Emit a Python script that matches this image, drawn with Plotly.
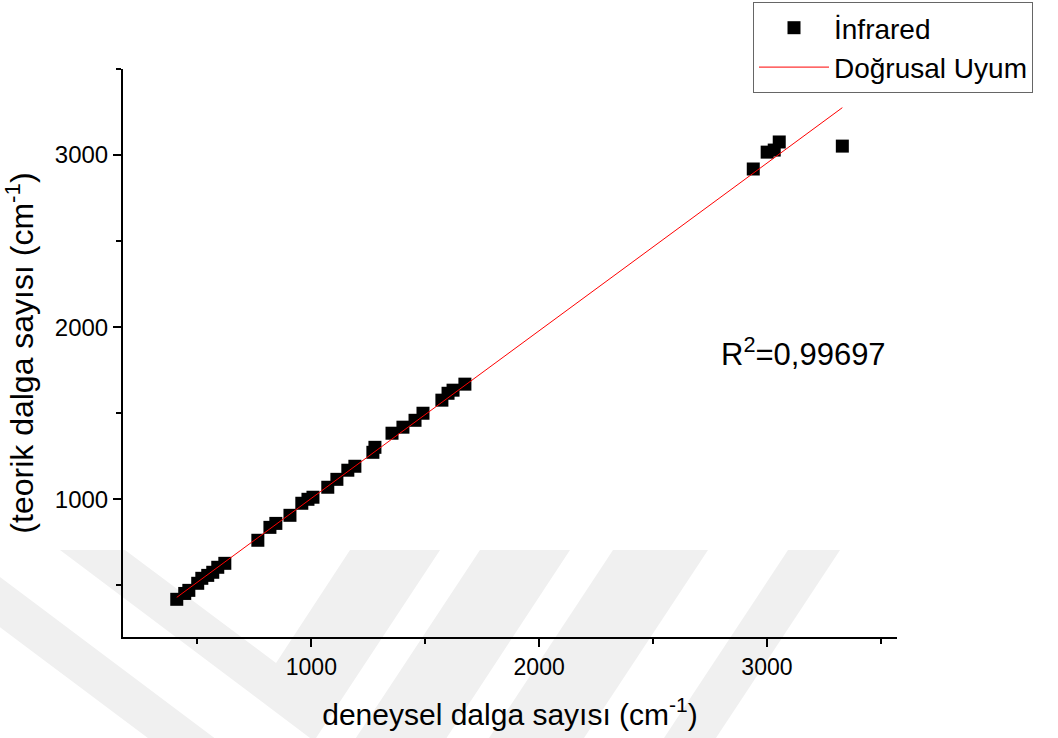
import plotly.graph_objects as go

# ---------------- data ----------------
exp_wavenumber = [409, 444, 462, 501, 519, 545, 567, 589, 620, 765, 818, 844, 906, 958,
                  985, 1007, 1072, 1112, 1160, 1191, 1270, 1279, 1354, 1402, 1455, 1490,
                  1573, 1600, 1622, 1674, 2940, 3001, 3032, 3054, 3331]
theo_wavenumber = [419, 453, 471, 512, 541, 558, 576, 605, 628, 762, 837, 860, 907, 977,
                   1000, 1012, 1070, 1116, 1169, 1192, 1273, 1302, 1384, 1419, 1459, 1500,
                   1576, 1616, 1634, 1669, 2919, 3017, 3029, 3076, 3052]
fit_slope = 0.9737
fit_intercept = 32.0
fit_x = [min(exp_wavenumber), max(exp_wavenumber)]
x_ticks = [1000, 2000, 3000]
y_ticks = [1000, 2000, 3000]
r2_text = "R<sup>2</sup>=0,99697"
series_names = ["İnfrared", "Doğrusal Uyum"]
x_title = "deneysel dalga sayısı (cm<sup>-1</sup>)"
y_title = "(teorik dalga sayısı (cm<sup>-1</sup>)"

FONT = "Arial, 'Liberation Sans', sans-serif"

# ---------------- layout geometry (pixels) ----------------
W, H = 1058, 738
L, R, T, B = 123, 161, 69, 101
PW, PH = W - L - R, H - T - B


def pp(x, y):
    """pixel -> paper coordinates"""
    return (x - L) / PW, (H - B - y) / PH


def poly(points):
    parts = []
    for i, (x, y) in enumerate(points):
        px, py = pp(x, y)
        parts.append(("M" if i == 0 else "L") + f"{px:.4f},{py:.4f}")
    return " ".join(parts) + " Z"


# faint background watermark (chevron stripes)
wm = [
    [(60, 550), (125, 550), (276, 663), (350, 550), (440, 550), (314, 741)],
    [(-103, 550), (-36, 550), (309, 809), (480, 550), (570, 550), (348, 888)],
    [(613, 550), (708, 550), (584, 738), (489, 738)],
    [(788, 550), (840, 550), (716, 738), (664, 738)],
]
shapes = [dict(type="path", xref="paper", yref="paper", path=poly(p),
               fillcolor="#f0f0f0", line=dict(width=0), layer="below") for p in wm]

fig = go.Figure()
fig.add_trace(go.Scatter(
    x=exp_wavenumber, y=theo_wavenumber, mode="markers", name=series_names[0],
    marker=dict(symbol="square", size=13, color="black"),
))
fig.add_trace(go.Scatter(
    x=fit_x, y=[fit_slope * v + fit_intercept for v in fit_x], mode="lines",
    name=series_names[1], line=dict(color="#ff0000", width=1),
))

axis_common = dict(
    showline=True, linecolor="black", linewidth=2, mirror=False,
    showgrid=False, zeroline=False,
    ticks="outside", ticklen=8, tickwidth=2, tickcolor="black",
    minor=dict(ticks="outside", ticklen=5, tickwidth=2, tickcolor="black",
               dtick=500, tick0=0),
)

fig.update_layout(
    width=W, height=H,
    margin=dict(l=L, r=R, t=T, b=B, autoexpand=False),
    paper_bgcolor="white", plot_bgcolor="rgba(0,0,0,0)",
    font=dict(family=FONT, color="black"),
    xaxis=dict(range=[173, 3571], tickvals=x_ticks,
               tickfont=dict(family=FONT, size=23, color="black"),
               title=dict(text=x_title, font=dict(family=FONT, size=30), standoff=25),
               **axis_common),
    yaxis=dict(range=[200, 3500], tickvals=y_ticks,
               tickfont=dict(family=FONT, size=24, color="black"),
               title=dict(text=y_title, font=dict(family=FONT, size=32), standoff=12),
               **axis_common),
    legend=dict(x=pp(753, 0)[0], y=pp(0, 2)[1], xanchor="left", yanchor="top",
                bgcolor="white", bordercolor="#666666", borderwidth=1,
                font=dict(family=FONT, size=28, color="black"),
                itemwidth=70, tracegroupgap=0),
    shapes=shapes,
    annotations=[dict(text=r2_text, xref="paper", yref="paper",
                      x=pp(719, 0)[0], y=pp(0, 352)[1], xanchor="left", yanchor="middle",
                      showarrow=False, font=dict(family=FONT, size=31, color="black"))],
)

fig.write_html("out.html")
